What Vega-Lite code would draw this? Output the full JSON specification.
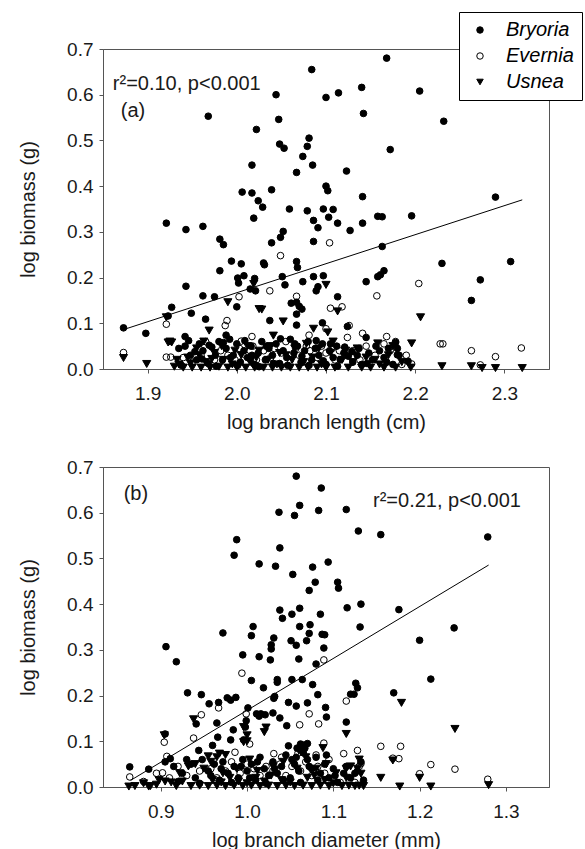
{
"$schema": "https://vega.github.io/schema/vega-lite/v6.json",
"background": "white",
"padding": {"left": 18, "top": 11, "right": 0, "bottom": 0},
"bounds": "flush",
"spacing": 98,
"resolve": {"legend": {"shape": "independent", "fill": "independent", "stroke": "independent"}},
"config": {
 "font": "Liberation Sans",
 "view": {"stroke": "#555", "strokeWidth": 1},
 "axis": {"grid": false, "domainColor": "#555", "tickColor": "#555", "tickSize": 4, "labelFont": "Liberation Sans", "labelFontSize": 19, "labelColor": "#1a1a1a", "titleFont": "Liberation Sans", "titleFontSize": 20, "titleFontWeight": "normal", "titleColor": "#1a1a1a"},
 "axisY": {"labelPadding": 6, "titlePadding": 28},
 "axisX": {"labelPadding": 11, "titlePadding": 9},
 "legend": {"strokeColor": "black", "fillColor": "white", "padding": 8, "rowPadding": 6, "labelFont": "Liberation Sans", "labelFontSize": 20, "labelFontStyle": "italic", "labelColor": "black", "labelOffset": 16, "symbolOffset": 3, "symbolSize": 42, "symbolStrokeColor": "black", "symbolStrokeWidth": 1}
},
"datasets": {
 "lengthPoints": [
  {"x":2.168,"y":0.680,"species":"Bryoria"},{"x":2.084,"y":0.655,"species":"Bryoria"},{"x":2.140,"y":0.616,"species":"Bryoria"},{"x":2.205,"y":0.608,"species":"Bryoria"},{"x":2.114,"y":0.604,"species":"Bryoria"},{"x":2.100,"y":0.594,"species":"Bryoria"},{"x":2.044,"y":0.600,"species":"Bryoria"},{"x":1.968,"y":0.553,"species":"Bryoria"},{"x":2.047,"y":0.546,"species":"Bryoria"},{"x":2.142,"y":0.559,"species":"Bryoria"},{"x":2.232,"y":0.542,"species":"Bryoria"},{"x":2.022,"y":0.524,"species":"Bryoria"},{"x":2.081,"y":0.505,"species":"Bryoria"},{"x":2.079,"y":0.487,"species":"Bryoria"},{"x":2.048,"y":0.492,"species":"Bryoria"},{"x":2.053,"y":0.483,"species":"Bryoria"},{"x":2.172,"y":0.480,"species":"Bryoria"},{"x":2.074,"y":0.465,"species":"Bryoria"},{"x":2.085,"y":0.446,"species":"Bryoria"},{"x":2.017,"y":0.446,"species":"Bryoria"},{"x":2.123,"y":0.433,"species":"Bryoria"},{"x":2.067,"y":0.430,"species":"Bryoria"},{"x":2.039,"y":0.392,"species":"Bryoria"},{"x":2.006,"y":0.387,"species":"Bryoria"},{"x":2.017,"y":0.385,"species":"Bryoria"},{"x":2.100,"y":0.400,"species":"Bryoria"},{"x":2.102,"y":0.390,"species":"Bryoria"},{"x":2.141,"y":0.377,"species":"Bryoria"},{"x":2.290,"y":0.376,"species":"Bryoria"},{"x":2.024,"y":0.368,"species":"Bryoria"},{"x":2.029,"y":0.354,"species":"Bryoria"},{"x":2.059,"y":0.350,"species":"Bryoria"},{"x":2.079,"y":0.346,"species":"Bryoria"},{"x":2.097,"y":0.350,"species":"Bryoria"},{"x":2.108,"y":0.349,"species":"Bryoria"},{"x":2.196,"y":0.335,"species":"Bryoria"},{"x":2.158,"y":0.334,"species":"Bryoria"},{"x":2.163,"y":0.333,"species":"Bryoria"},{"x":2.019,"y":0.330,"species":"Bryoria"},{"x":2.103,"y":0.332,"species":"Bryoria"},{"x":2.086,"y":0.325,"species":"Bryoria"},{"x":1.921,"y":0.319,"species":"Bryoria"},{"x":2.113,"y":0.319,"species":"Bryoria"},{"x":2.141,"y":0.319,"species":"Bryoria"},{"x":1.962,"y":0.312,"species":"Bryoria"},{"x":2.091,"y":0.309,"species":"Bryoria"},{"x":1.943,"y":0.305,"species":"Bryoria"},{"x":2.127,"y":0.303,"species":"Bryoria"},{"x":2.052,"y":0.301,"species":"Bryoria"},{"x":1.981,"y":0.284,"species":"Bryoria"},{"x":1.985,"y":0.272,"species":"Bryoria"},{"x":2.039,"y":0.276,"species":"Bryoria"},{"x":2.049,"y":0.288,"species":"Bryoria"},{"x":2.086,"y":0.279,"species":"Bryoria"},{"x":2.163,"y":0.268,"species":"Bryoria"},{"x":2.030,"y":0.232,"species":"Bryoria"},{"x":2.031,"y":0.228,"species":"Bryoria"},{"x":2.067,"y":0.235,"species":"Bryoria"},{"x":2.068,"y":0.222,"species":"Bryoria"},{"x":1.994,"y":0.236,"species":"Bryoria"},{"x":2.005,"y":0.230,"species":"Bryoria"},{"x":2.230,"y":0.231,"species":"Bryoria"},{"x":2.307,"y":0.235,"species":"Bryoria"},{"x":1.981,"y":0.215,"species":"Bryoria"},{"x":2.165,"y":0.215,"species":"Bryoria"},{"x":2.161,"y":0.206,"species":"Bryoria"},{"x":2.158,"y":0.202,"species":"Bryoria"},{"x":2.008,"y":0.204,"species":"Bryoria"},{"x":2.001,"y":0.199,"species":"Bryoria"},{"x":2.020,"y":0.198,"species":"Bryoria"},{"x":2.051,"y":0.202,"species":"Bryoria"},{"x":2.086,"y":0.202,"species":"Bryoria"},{"x":2.097,"y":0.204,"species":"Bryoria"},{"x":2.273,"y":0.195,"species":"Bryoria"},{"x":2.145,"y":0.191,"species":"Bryoria"},{"x":2.074,"y":0.191,"species":"Bryoria"},{"x":2.002,"y":0.188,"species":"Bryoria"},{"x":2.054,"y":0.184,"species":"Bryoria"},{"x":1.943,"y":0.181,"species":"Bryoria"},{"x":2.091,"y":0.180,"species":"Bryoria"},{"x":2.089,"y":0.171,"species":"Bryoria"},{"x":2.015,"y":0.175,"species":"Bryoria"},{"x":2.021,"y":0.171,"species":"Bryoria"},{"x":1.962,"y":0.160,"species":"Bryoria"},{"x":1.975,"y":0.158,"species":"Bryoria"},{"x":2.113,"y":0.158,"species":"Bryoria"},{"x":2.263,"y":0.150,"species":"Bryoria"},{"x":2.000,"y":0.136,"species":"Bryoria"},{"x":2.061,"y":0.144,"species":"Bryoria"},{"x":2.067,"y":0.146,"species":"Bryoria"},{"x":2.070,"y":0.137,"species":"Bryoria"},{"x":1.927,"y":0.135,"species":"Bryoria"},{"x":2.073,"y":0.131,"species":"Bryoria"},{"x":2.067,"y":0.120,"species":"Bryoria"},{"x":1.949,"y":0.122,"species":"Bryoria"},{"x":1.923,"y":0.116,"species":"Bryoria"},{"x":1.965,"y":0.109,"species":"Bryoria"},{"x":2.037,"y":0.106,"species":"Bryoria"},{"x":2.096,"y":0.101,"species":"Bryoria"},{"x":2.124,"y":0.093,"species":"Bryoria"},{"x":2.067,"y":0.096,"species":"Bryoria"},{"x":1.873,"y":0.090,"species":"Bryoria"},{"x":1.898,"y":0.078,"species":"Bryoria"},{"x":1.942,"y":0.071,"species":"Bryoria"},{"x":1.988,"y":0.074,"species":"Bryoria"},{"x":2.145,"y":0.069,"species":"Bryoria"},{"x":2.178,"y":0.058,"species":"Bryoria"},{"x":2.180,"y":0.031,"species":"Bryoria"},{"x":2.192,"y":0.017,"species":"Bryoria"},
  {"x":1.935,"y":0.045,"species":"Bryoria"},{"x":1.942,"y":0.050,"species":"Bryoria"},{"x":1.948,"y":0.030,"species":"Bryoria"},{"x":1.955,"y":0.020,"species":"Bryoria"},{"x":1.958,"y":0.055,"species":"Bryoria"},{"x":1.962,"y":0.040,"species":"Bryoria"},{"x":1.968,"y":0.012,"species":"Bryoria"},{"x":1.972,"y":0.048,"species":"Bryoria"},{"x":1.976,"y":0.030,"species":"Bryoria"},{"x":1.980,"y":0.060,"species":"Bryoria"},{"x":1.984,"y":0.020,"species":"Bryoria"},{"x":1.988,"y":0.045,"species":"Bryoria"},{"x":1.992,"y":0.065,"species":"Bryoria"},{"x":1.996,"y":0.030,"species":"Bryoria"},{"x":2.000,"y":0.055,"species":"Bryoria"},{"x":2.004,"y":0.015,"species":"Bryoria"},{"x":2.008,"y":0.040,"species":"Bryoria"},{"x":2.012,"y":0.025,"species":"Bryoria"},{"x":2.016,"y":0.050,"species":"Bryoria"},{"x":2.020,"y":0.010,"species":"Bryoria"},{"x":2.024,"y":0.035,"species":"Bryoria"},{"x":2.028,"y":0.060,"species":"Bryoria"},{"x":2.032,"y":0.020,"species":"Bryoria"},{"x":2.036,"y":0.045,"species":"Bryoria"},{"x":2.040,"y":0.030,"species":"Bryoria"},{"x":2.044,"y":0.055,"species":"Bryoria"},{"x":2.048,"y":0.012,"species":"Bryoria"},{"x":2.052,"y":0.040,"species":"Bryoria"},{"x":2.056,"y":0.025,"species":"Bryoria"},{"x":2.060,"y":0.065,"species":"Bryoria"},{"x":2.064,"y":0.035,"species":"Bryoria"},{"x":2.068,"y":0.050,"species":"Bryoria"},{"x":2.072,"y":0.015,"species":"Bryoria"},{"x":2.076,"y":0.040,"species":"Bryoria"},{"x":2.080,"y":0.060,"species":"Bryoria"},{"x":2.084,"y":0.020,"species":"Bryoria"},{"x":2.088,"y":0.045,"species":"Bryoria"},{"x":2.092,"y":0.030,"species":"Bryoria"},{"x":2.096,"y":0.055,"species":"Bryoria"},{"x":2.100,"y":0.010,"species":"Bryoria"},{"x":2.104,"y":0.040,"species":"Bryoria"},{"x":2.108,"y":0.025,"species":"Bryoria"},{"x":2.112,"y":0.050,"species":"Bryoria"},{"x":2.116,"y":0.020,"species":"Bryoria"},{"x":2.120,"y":0.035,"species":"Bryoria"},{"x":2.125,"y":0.028,"species":"Bryoria"},{"x":2.130,"y":0.015,"species":"Bryoria"},{"x":2.135,"y":0.030,"species":"Bryoria"},{"x":2.140,"y":0.010,"species":"Bryoria"},{"x":2.148,"y":0.035,"species":"Bryoria"},{"x":2.152,"y":0.020,"species":"Bryoria"},{"x":2.160,"y":0.040,"species":"Bryoria"},{"x":2.165,"y":0.025,"species":"Bryoria"},{"x":2.170,"y":0.045,"species":"Bryoria"},{"x":2.175,"y":0.010,"species":"Bryoria"},{"x":2.182,"y":0.030,"species":"Bryoria"},
  {"x":1.938,"y":0.008,"species":"Bryoria"},{"x":1.946,"y":0.062,"species":"Bryoria"},{"x":1.953,"y":0.038,"species":"Bryoria"},{"x":1.961,"y":0.022,"species":"Bryoria"},{"x":1.969,"y":0.052,"species":"Bryoria"},{"x":1.977,"y":0.006,"species":"Bryoria"},{"x":1.985,"y":0.058,"species":"Bryoria"},{"x":1.993,"y":0.025,"species":"Bryoria"},{"x":2.001,"y":0.008,"species":"Bryoria"},{"x":2.009,"y":0.062,"species":"Bryoria"},{"x":2.017,"y":0.030,"species":"Bryoria"},{"x":2.025,"y":0.005,"species":"Bryoria"},{"x":2.033,"y":0.050,"species":"Bryoria"},{"x":2.041,"y":0.012,"species":"Bryoria"},{"x":2.049,"y":0.066,"species":"Bryoria"},{"x":2.057,"y":0.008,"species":"Bryoria"},{"x":2.065,"y":0.055,"species":"Bryoria"},{"x":2.073,"y":0.028,"species":"Bryoria"},{"x":2.081,"y":0.008,"species":"Bryoria"},{"x":2.089,"y":0.062,"species":"Bryoria"},{"x":2.097,"y":0.018,"species":"Bryoria"},{"x":2.105,"y":0.055,"species":"Bryoria"},{"x":2.113,"y":0.006,"species":"Bryoria"},{"x":2.121,"y":0.048,"species":"Bryoria"},{"x":2.129,"y":0.038,"species":"Bryoria"},{"x":2.137,"y":0.045,"species":"Bryoria"},{"x":2.146,"y":0.012,"species":"Bryoria"},{"x":2.156,"y":0.050,"species":"Bryoria"},{"x":2.168,"y":0.015,"species":"Bryoria"},{"x":2.180,"y":0.045,"species":"Bryoria"},
  {"x":2.104,"y":0.276,"species":"Evernia"},{"x":2.049,"y":0.248,"species":"Evernia"},{"x":2.037,"y":0.171,"species":"Evernia"},{"x":2.0025,"y":0.158,"species":"Evernia"},{"x":2.067,"y":0.159,"species":"Evernia"},{"x":2.204,"y":0.187,"species":"Evernia"},{"x":2.157,"y":0.160,"species":"Evernia"},{"x":2.105,"y":0.133,"species":"Evernia"},{"x":2.118,"y":0.136,"species":"Evernia"},{"x":1.989,"y":0.106,"species":"Evernia"},{"x":1.987,"y":0.095,"species":"Evernia"},{"x":1.921,"y":0.098,"species":"Evernia"},{"x":2.126,"y":0.095,"species":"Evernia"},{"x":1.873,"y":0.036,"species":"Evernia"},{"x":2.228,"y":0.055,"species":"Evernia"},{"x":2.231,"y":0.055,"species":"Evernia"},{"x":2.263,"y":0.040,"species":"Evernia"},{"x":2.290,"y":0.027,"species":"Evernia"},{"x":2.319,"y":0.046,"species":"Evernia"},{"x":2.273,"y":0.009,"species":"Evernia"},{"x":2.168,"y":0.071,"species":"Evernia"},{"x":2.141,"y":0.078,"species":"Evernia"},{"x":2.081,"y":0.074,"species":"Evernia"},{"x":2.100,"y":0.088,"species":"Evernia"},{"x":2.005,"y":0.061,"species":"Evernia"},{"x":2.017,"y":0.071,"species":"Evernia"},{"x":2.124,"y":0.069,"species":"Evernia"},{"x":1.921,"y":0.026,"species":"Evernia"},{"x":1.926,"y":0.026,"species":"Evernia"},{"x":2.196,"y":0.011,"species":"Evernia"},
  {"x":1.940,"y":0.025,"species":"Evernia"},{"x":1.950,"y":0.015,"species":"Evernia"},{"x":1.960,"y":0.030,"species":"Evernia"},{"x":1.965,"y":0.060,"species":"Evernia"},{"x":1.975,"y":0.020,"species":"Evernia"},{"x":1.982,"y":0.040,"species":"Evernia"},{"x":1.990,"y":0.030,"species":"Evernia"},{"x":1.998,"y":0.020,"species":"Evernia"},{"x":2.003,"y":0.045,"species":"Evernia"},{"x":2.010,"y":0.030,"species":"Evernia"},{"x":2.018,"y":0.050,"species":"Evernia"},{"x":2.022,"y":0.020,"species":"Evernia"},{"x":2.030,"y":0.040,"species":"Evernia"},{"x":2.038,"y":0.025,"species":"Evernia"},{"x":2.042,"y":0.045,"species":"Evernia"},{"x":2.050,"y":0.035,"species":"Evernia"},{"x":2.055,"y":0.060,"species":"Evernia"},{"x":2.060,"y":0.020,"species":"Evernia"},{"x":2.066,"y":0.045,"species":"Evernia"},{"x":2.070,"y":0.030,"species":"Evernia"},{"x":2.078,"y":0.050,"species":"Evernia"},{"x":2.082,"y":0.040,"species":"Evernia"},{"x":2.090,"y":0.025,"species":"Evernia"},{"x":2.095,"y":0.050,"species":"Evernia"},{"x":2.100,"y":0.035,"species":"Evernia"},{"x":2.107,"y":0.045,"species":"Evernia"},{"x":2.110,"y":0.020,"species":"Evernia"},{"x":2.115,"y":0.040,"species":"Evernia"},{"x":2.122,"y":0.030,"species":"Evernia"},{"x":2.130,"y":0.040,"species":"Evernia"},{"x":2.138,"y":0.020,"species":"Evernia"},{"x":2.145,"y":0.050,"species":"Evernia"},{"x":2.155,"y":0.030,"species":"Evernia"},{"x":2.165,"y":0.055,"species":"Evernia"},{"x":2.172,"y":0.040,"species":"Evernia"},{"x":2.178,"y":0.060,"species":"Evernia"},{"x":2.185,"y":0.010,"species":"Evernia"},{"x":2.190,"y":0.030,"species":"Evernia"},
  {"x":2.100,"y":0.184,"species":"Usnea"},{"x":2.019,"y":0.186,"species":"Usnea"},{"x":1.990,"y":0.146,"species":"Usnea"},{"x":2.025,"y":0.131,"species":"Usnea"},{"x":2.028,"y":0.130,"species":"Usnea"},{"x":2.113,"y":0.126,"species":"Usnea"},{"x":2.206,"y":0.113,"species":"Usnea"},{"x":1.921,"y":0.113,"species":"Usnea"},{"x":2.052,"y":0.104,"species":"Usnea"},{"x":2.086,"y":0.088,"species":"Usnea"},{"x":1.969,"y":0.084,"species":"Usnea"},{"x":2.102,"y":0.080,"species":"Usnea"},{"x":2.041,"y":0.073,"species":"Usnea"},{"x":1.923,"y":0.058,"species":"Usnea"},{"x":1.927,"y":0.058,"species":"Usnea"},{"x":2.158,"y":0.056,"species":"Usnea"},{"x":2.196,"y":0.056,"species":"Usnea"},{"x":1.873,"y":0.024,"species":"Usnea"},{"x":1.899,"y":0.011,"species":"Usnea"},{"x":2.230,"y":0.006,"species":"Usnea"},{"x":2.263,"y":0.006,"species":"Usnea"},{"x":2.275,"y":0.002,"species":"Usnea"},{"x":2.290,"y":0.002,"species":"Usnea"},{"x":2.320,"y":0.002,"species":"Usnea"},
  {"x":1.930,"y":0.005,"species":"Usnea"},{"x":1.935,"y":0.010,"species":"Usnea"},{"x":1.940,"y":0.003,"species":"Usnea"},{"x":1.945,"y":0.025,"species":"Usnea"},{"x":1.950,"y":0.003,"species":"Usnea"},{"x":1.955,"y":0.045,"species":"Usnea"},{"x":1.960,"y":0.003,"species":"Usnea"},{"x":1.965,"y":0.015,"species":"Usnea"},{"x":1.970,"y":0.003,"species":"Usnea"},{"x":1.975,"y":0.035,"species":"Usnea"},{"x":1.980,"y":0.005,"species":"Usnea"},{"x":1.985,"y":0.020,"species":"Usnea"},{"x":1.990,"y":0.003,"species":"Usnea"},{"x":1.995,"y":0.010,"species":"Usnea"},{"x":2.000,"y":0.003,"species":"Usnea"},{"x":2.005,"y":0.030,"species":"Usnea"},{"x":2.010,"y":0.003,"species":"Usnea"},{"x":2.015,"y":0.015,"species":"Usnea"},{"x":2.020,"y":0.003,"species":"Usnea"},{"x":2.025,"y":0.040,"species":"Usnea"},{"x":2.030,"y":0.003,"species":"Usnea"},{"x":2.035,"y":0.020,"species":"Usnea"},{"x":2.040,"y":0.003,"species":"Usnea"},{"x":2.045,"y":0.010,"species":"Usnea"},{"x":2.050,"y":0.003,"species":"Usnea"},{"x":2.055,"y":0.030,"species":"Usnea"},{"x":2.060,"y":0.003,"species":"Usnea"},{"x":2.065,"y":0.045,"species":"Usnea"},{"x":2.070,"y":0.003,"species":"Usnea"},{"x":2.075,"y":0.015,"species":"Usnea"},{"x":2.080,"y":0.003,"species":"Usnea"},{"x":2.085,"y":0.025,"species":"Usnea"},{"x":2.090,"y":0.003,"species":"Usnea"},{"x":2.095,"y":0.010,"species":"Usnea"},{"x":2.100,"y":0.003,"species":"Usnea"},{"x":2.105,"y":0.035,"species":"Usnea"},{"x":2.110,"y":0.003,"species":"Usnea"},{"x":2.118,"y":0.020,"species":"Usnea"},{"x":2.125,"y":0.003,"species":"Usnea"},{"x":2.130,"y":0.015,"species":"Usnea"},{"x":2.140,"y":0.003,"species":"Usnea"},{"x":2.145,"y":0.025,"species":"Usnea"},{"x":2.150,"y":0.003,"species":"Usnea"},{"x":2.160,"y":0.010,"species":"Usnea"},{"x":2.165,"y":0.003,"species":"Usnea"},{"x":2.170,"y":0.030,"species":"Usnea"},{"x":2.178,"y":0.003,"species":"Usnea"},{"x":2.185,"y":0.015,"species":"Usnea"},{"x":2.195,"y":0.003,"species":"Usnea"},{"x":1.963,"y":0.060,"species":"Usnea"},{"x":1.925,"y":0.060,"species":"Usnea"},
  {"x":1.933,"y":0.020,"species":"Usnea"},{"x":1.948,"y":0.012,"species":"Usnea"},{"x":1.958,"y":0.030,"species":"Usnea"},{"x":1.972,"y":0.022,"species":"Usnea"},{"x":1.983,"y":0.050,"species":"Usnea"},{"x":1.998,"y":0.040,"species":"Usnea"},{"x":2.012,"y":0.050,"species":"Usnea"},{"x":2.022,"y":0.025,"species":"Usnea"},{"x":2.038,"y":0.050,"species":"Usnea"},{"x":2.048,"y":0.035,"species":"Usnea"},{"x":2.062,"y":0.020,"species":"Usnea"},{"x":2.078,"y":0.055,"species":"Usnea"},{"x":2.092,"y":0.045,"species":"Usnea"},{"x":2.108,"y":0.060,"species":"Usnea"},{"x":2.122,"y":0.040,"species":"Usnea"},{"x":2.135,"y":0.045,"species":"Usnea"},{"x":2.155,"y":0.020,"species":"Usnea"},{"x":2.175,"y":0.050,"species":"Usnea"}
 ],
 "diameterPoints": [
  {"x":1.057,"y":0.680,"species":"Bryoria"},{"x":1.086,"y":0.654,"species":"Bryoria"},{"x":1.061,"y":0.616,"species":"Bryoria"},{"x":1.055,"y":0.594,"species":"Bryoria"},{"x":1.037,"y":0.601,"species":"Bryoria"},{"x":1.083,"y":0.605,"species":"Bryoria"},{"x":1.115,"y":0.607,"species":"Bryoria"},{"x":1.129,"y":0.560,"species":"Bryoria"},{"x":1.155,"y":0.552,"species":"Bryoria"},{"x":1.279,"y":0.547,"species":"Bryoria"},{"x":0.988,"y":0.541,"species":"Bryoria"},{"x":0.985,"y":0.507,"species":"Bryoria"},{"x":1.038,"y":0.523,"species":"Bryoria"},{"x":1.014,"y":0.488,"species":"Bryoria"},{"x":1.033,"y":0.483,"species":"Bryoria"},{"x":1.094,"y":0.492,"species":"Bryoria"},{"x":1.076,"y":0.481,"species":"Bryoria"},{"x":1.053,"y":0.465,"species":"Bryoria"},{"x":1.079,"y":0.448,"species":"Bryoria"},{"x":1.105,"y":0.448,"species":"Bryoria"},{"x":1.106,"y":0.435,"species":"Bryoria"},{"x":1.072,"y":0.430,"species":"Bryoria"},{"x":1.132,"y":0.400,"species":"Bryoria"},{"x":1.116,"y":0.392,"species":"Bryoria"},{"x":1.176,"y":0.388,"species":"Bryoria"},{"x":1.038,"y":0.387,"species":"Bryoria"},{"x":1.061,"y":0.391,"species":"Bryoria"},{"x":1.085,"y":0.378,"species":"Bryoria"},{"x":1.052,"y":0.378,"species":"Bryoria"},{"x":1.041,"y":0.369,"species":"Bryoria"},{"x":1.007,"y":0.351,"species":"Bryoria"},{"x":1.061,"y":0.351,"species":"Bryoria"},{"x":1.073,"y":0.355,"species":"Bryoria"},{"x":1.131,"y":0.350,"species":"Bryoria"},{"x":1.240,"y":0.348,"species":"Bryoria"},{"x":0.972,"y":0.337,"species":"Bryoria"},{"x":1.005,"y":0.331,"species":"Bryoria"},{"x":1.031,"y":0.326,"species":"Bryoria"},{"x":1.087,"y":0.334,"species":"Bryoria"},{"x":1.090,"y":0.333,"species":"Bryoria"},{"x":1.072,"y":0.336,"species":"Bryoria"},{"x":1.028,"y":0.311,"species":"Bryoria"},{"x":1.051,"y":0.320,"species":"Bryoria"},{"x":1.057,"y":0.310,"species":"Bryoria"},{"x":1.069,"y":0.320,"species":"Bryoria"},{"x":1.200,"y":0.321,"species":"Bryoria"},{"x":0.906,"y":0.307,"species":"Bryoria"},{"x":1.028,"y":0.302,"species":"Bryoria"},{"x":1.089,"y":0.304,"species":"Bryoria"},{"x":0.995,"y":0.289,"species":"Bryoria"},{"x":1.014,"y":0.285,"species":"Bryoria"},{"x":1.027,"y":0.278,"species":"Bryoria"},{"x":1.060,"y":0.280,"species":"Bryoria"},{"x":1.080,"y":0.269,"species":"Bryoria"},{"x":0.918,"y":0.274,"species":"Bryoria"},{"x":1.005,"y":0.233,"species":"Bryoria"},{"x":1.035,"y":0.235,"species":"Bryoria"},{"x":1.052,"y":0.235,"species":"Bryoria"},{"x":1.064,"y":0.235,"species":"Bryoria"},{"x":1.213,"y":0.236,"species":"Bryoria"},{"x":1.035,"y":0.229,"species":"Bryoria"},{"x":1.076,"y":0.224,"species":"Bryoria"},{"x":1.126,"y":0.227,"species":"Bryoria"},{"x":1.019,"y":0.217,"species":"Bryoria"},{"x":1.128,"y":0.217,"species":"Bryoria"},{"x":0.931,"y":0.206,"species":"Bryoria"},{"x":0.947,"y":0.202,"species":"Bryoria"},{"x":1.170,"y":0.206,"species":"Bryoria"},{"x":1.120,"y":0.203,"species":"Bryoria"},{"x":1.124,"y":0.203,"species":"Bryoria"},{"x":1.082,"y":0.202,"species":"Bryoria"},{"x":0.977,"y":0.195,"species":"Bryoria"},{"x":0.987,"y":0.196,"species":"Bryoria"},{"x":0.981,"y":0.190,"species":"Bryoria"},{"x":1.031,"y":0.194,"species":"Bryoria"},{"x":1.032,"y":0.198,"species":"Bryoria"},{"x":0.967,"y":0.185,"species":"Bryoria"},{"x":0.956,"y":0.182,"species":"Bryoria"},{"x":1.048,"y":0.185,"species":"Bryoria"},{"x":1.070,"y":0.184,"species":"Bryoria"},{"x":1.091,"y":0.174,"species":"Bryoria"},{"x":1.001,"y":0.173,"species":"Bryoria"},{"x":1.057,"y":0.177,"species":"Bryoria"},{"x":1.115,"y":0.142,"species":"Bryoria"},{"x":0.965,"y":0.140,"species":"Bryoria"},{"x":1.011,"y":0.160,"species":"Bryoria"},{"x":1.014,"y":0.155,"species":"Bryoria"},{"x":1.016,"y":0.160,"species":"Bryoria"},{"x":1.021,"y":0.158,"species":"Bryoria"},{"x":1.030,"y":0.162,"species":"Bryoria"},{"x":1.038,"y":0.151,"species":"Bryoria"},{"x":1.046,"y":0.134,"species":"Bryoria"},{"x":0.999,"y":0.145,"species":"Bryoria"},{"x":0.998,"y":0.131,"species":"Bryoria"},{"x":1.092,"y":0.153,"species":"Bryoria"},{"x":0.941,"y":0.138,"species":"Bryoria"},{"x":0.905,"y":0.116,"species":"Bryoria"},{"x":0.984,"y":0.125,"species":"Bryoria"},{"x":0.966,"y":0.109,"species":"Bryoria"},{"x":0.981,"y":0.103,"species":"Bryoria"},{"x":0.996,"y":0.103,"species":"Bryoria"},{"x":0.960,"y":0.091,"species":"Bryoria"},{"x":0.944,"y":0.080,"species":"Bryoria"},{"x":0.864,"y":0.044,"species":"Bryoria"},{"x":0.886,"y":0.039,"species":"Bryoria"},{"x":0.911,"y":0.062,"species":"Bryoria"},{"x":1.062,"y":0.094,"species":"Bryoria"},
  {"x":0.905,"y":0.055,"species":"Bryoria"},{"x":0.915,"y":0.045,"species":"Bryoria"},{"x":0.925,"y":0.030,"species":"Bryoria"},{"x":0.935,"y":0.050,"species":"Bryoria"},{"x":0.940,"y":0.020,"species":"Bryoria"},{"x":0.948,"y":0.060,"species":"Bryoria"},{"x":0.955,"y":0.035,"species":"Bryoria"},{"x":0.962,"y":0.050,"species":"Bryoria"},{"x":0.968,"y":0.015,"species":"Bryoria"},{"x":0.972,"y":0.055,"species":"Bryoria"},{"x":0.978,"y":0.030,"species":"Bryoria"},{"x":0.985,"y":0.045,"species":"Bryoria"},{"x":0.990,"y":0.020,"species":"Bryoria"},{"x":0.995,"y":0.060,"species":"Bryoria"},{"x":1.000,"y":0.035,"species":"Bryoria"},{"x":1.005,"y":0.050,"species":"Bryoria"},{"x":1.010,"y":0.015,"species":"Bryoria"},{"x":1.015,"y":0.065,"species":"Bryoria"},{"x":1.020,"y":0.040,"species":"Bryoria"},{"x":1.025,"y":0.025,"species":"Bryoria"},{"x":1.030,"y":0.055,"species":"Bryoria"},{"x":1.035,"y":0.030,"species":"Bryoria"},{"x":1.040,"y":0.045,"species":"Bryoria"},{"x":1.045,"y":0.070,"species":"Bryoria"},{"x":1.050,"y":0.020,"species":"Bryoria"},{"x":1.055,"y":0.050,"species":"Bryoria"},{"x":1.060,"y":0.035,"species":"Bryoria"},{"x":1.065,"y":0.075,"species":"Bryoria"},{"x":1.070,"y":0.060,"species":"Bryoria"},{"x":1.075,"y":0.040,"species":"Bryoria"},{"x":1.080,"y":0.065,"species":"Bryoria"},{"x":1.085,"y":0.030,"species":"Bryoria"},{"x":1.090,"y":0.050,"species":"Bryoria"},{"x":1.095,"y":0.020,"species":"Bryoria"},{"x":1.100,"y":0.040,"species":"Bryoria"},{"x":1.105,"y":0.010,"species":"Bryoria"},{"x":1.112,"y":0.030,"species":"Bryoria"},{"x":1.120,"y":0.020,"species":"Bryoria"},{"x":1.128,"y":0.035,"species":"Bryoria"},{"x":1.135,"y":0.015,"species":"Bryoria"},{"x":1.048,"y":0.090,"species":"Bryoria"},{"x":1.058,"y":0.085,"species":"Bryoria"},{"x":1.070,"y":0.095,"species":"Bryoria"},
  {"x":0.920,"y":0.012,"species":"Bryoria"},{"x":0.930,"y":0.060,"species":"Bryoria"},{"x":0.945,"y":0.008,"species":"Bryoria"},{"x":0.958,"y":0.025,"species":"Bryoria"},{"x":0.970,"y":0.040,"species":"Bryoria"},{"x":0.982,"y":0.010,"species":"Bryoria"},{"x":0.993,"y":0.045,"species":"Bryoria"},{"x":1.003,"y":0.020,"species":"Bryoria"},{"x":1.012,"y":0.055,"species":"Bryoria"},{"x":1.022,"y":0.008,"species":"Bryoria"},{"x":1.032,"y":0.040,"species":"Bryoria"},{"x":1.042,"y":0.015,"species":"Bryoria"},{"x":1.052,"y":0.060,"species":"Bryoria"},{"x":1.062,"y":0.010,"species":"Bryoria"},{"x":1.072,"y":0.045,"species":"Bryoria"},{"x":1.082,"y":0.015,"species":"Bryoria"},{"x":1.092,"y":0.070,"species":"Bryoria"},{"x":1.102,"y":0.025,"species":"Bryoria"},{"x":1.115,"y":0.045,"species":"Bryoria"},{"x":1.125,"y":0.030,"species":"Bryoria"},{"x":1.132,"y":0.055,"species":"Bryoria"},{"x":1.057,"y":0.065,"species":"Bryoria"},{"x":1.067,"y":0.085,"species":"Bryoria"},
  {"x":0.994,"y":0.249,"species":"Evernia"},{"x":1.089,"y":0.278,"species":"Evernia"},{"x":1.115,"y":0.188,"species":"Evernia"},{"x":0.967,"y":0.173,"species":"Evernia"},{"x":0.947,"y":0.158,"species":"Evernia"},{"x":0.999,"y":0.160,"species":"Evernia"},{"x":1.072,"y":0.160,"species":"Evernia"},{"x":1.083,"y":0.138,"species":"Evernia"},{"x":1.061,"y":0.136,"species":"Evernia"},{"x":0.938,"y":0.107,"species":"Evernia"},{"x":0.904,"y":0.098,"species":"Evernia"},{"x":1.003,"y":0.094,"species":"Evernia"},{"x":1.155,"y":0.089,"species":"Evernia"},{"x":1.178,"y":0.089,"species":"Evernia"},{"x":1.089,"y":0.096,"species":"Evernia"},{"x":1.128,"y":0.080,"species":"Evernia"},{"x":1.169,"y":0.063,"species":"Evernia"},{"x":1.176,"y":0.062,"species":"Evernia"},{"x":1.213,"y":0.049,"species":"Evernia"},{"x":1.241,"y":0.039,"species":"Evernia"},{"x":1.279,"y":0.017,"species":"Evernia"},{"x":1.200,"y":0.029,"species":"Evernia"},{"x":0.864,"y":0.022,"species":"Evernia"},{"x":0.907,"y":0.067,"species":"Evernia"},{"x":0.902,"y":0.031,"species":"Evernia"},{"x":1.031,"y":0.073,"species":"Evernia"},{"x":1.059,"y":0.074,"species":"Evernia"},{"x":0.986,"y":0.076,"species":"Evernia"},{"x":1.112,"y":0.073,"species":"Evernia"},{"x":1.132,"y":0.051,"species":"Evernia"},
  {"x":0.880,"y":0.012,"species":"Evernia"},{"x":0.895,"y":0.030,"species":"Evernia"},{"x":0.910,"y":0.020,"species":"Evernia"},{"x":0.920,"y":0.045,"species":"Evernia"},{"x":0.930,"y":0.025,"species":"Evernia"},{"x":0.945,"y":0.035,"species":"Evernia"},{"x":0.958,"y":0.040,"species":"Evernia"},{"x":0.965,"y":0.020,"species":"Evernia"},{"x":0.975,"y":0.035,"species":"Evernia"},{"x":0.982,"y":0.055,"species":"Evernia"},{"x":0.992,"y":0.030,"species":"Evernia"},{"x":1.000,"y":0.050,"species":"Evernia"},{"x":1.008,"y":0.040,"species":"Evernia"},{"x":1.015,"y":0.025,"species":"Evernia"},{"x":1.022,"y":0.045,"species":"Evernia"},{"x":1.030,"y":0.035,"species":"Evernia"},{"x":1.038,"y":0.050,"species":"Evernia"},{"x":1.045,"y":0.025,"species":"Evernia"},{"x":1.052,"y":0.045,"species":"Evernia"},{"x":1.062,"y":0.035,"species":"Evernia"},{"x":1.068,"y":0.055,"species":"Evernia"},{"x":1.075,"y":0.025,"species":"Evernia"},{"x":1.082,"y":0.045,"species":"Evernia"},{"x":1.090,"y":0.030,"species":"Evernia"},{"x":1.095,"y":0.060,"species":"Evernia"},{"x":1.100,"y":0.020,"species":"Evernia"},{"x":1.108,"y":0.010,"species":"Evernia"},{"x":1.125,"y":0.010,"species":"Evernia"},{"x":1.130,"y":0.045,"species":"Evernia"},{"x":1.065,"y":0.075,"species":"Evernia"},{"x":1.080,"y":0.070,"species":"Evernia"},{"x":1.040,"y":0.065,"species":"Evernia"},
  {"x":1.179,"y":0.184,"species":"Usnea"},{"x":1.241,"y":0.127,"species":"Usnea"},{"x":1.115,"y":0.116,"species":"Usnea"},{"x":0.938,"y":0.148,"species":"Usnea"},{"x":0.996,"y":0.131,"species":"Usnea"},{"x":1.000,"y":0.113,"species":"Usnea"},{"x":0.904,"y":0.113,"species":"Usnea"},{"x":0.996,"y":0.098,"species":"Usnea"},{"x":1.088,"y":0.085,"species":"Usnea"},{"x":1.065,"y":0.091,"species":"Usnea"},{"x":0.968,"y":0.073,"species":"Usnea"},{"x":0.955,"y":0.067,"species":"Usnea"},{"x":1.155,"y":0.020,"species":"Usnea"},{"x":1.200,"y":0.020,"species":"Usnea"},{"x":1.169,"y":0.058,"species":"Usnea"},{"x":1.115,"y":0.040,"species":"Usnea"},{"x":1.132,"y":0.029,"species":"Usnea"},{"x":1.177,"y":0.001,"species":"Usnea"},{"x":1.213,"y":0.001,"species":"Usnea"},{"x":1.280,"y":0.004,"species":"Usnea"},{"x":0.863,"y":0.001,"species":"Usnea"},{"x":0.886,"y":0.001,"species":"Usnea"},
  {"x":0.870,"y":0.002,"species":"Usnea"},{"x":0.880,"y":0.008,"species":"Usnea"},{"x":0.888,"y":0.002,"species":"Usnea"},{"x":0.895,"y":0.005,"species":"Usnea"},{"x":0.905,"y":0.012,"species":"Usnea"},{"x":0.912,"y":0.010,"species":"Usnea"},{"x":0.918,"y":0.002,"species":"Usnea"},{"x":0.925,"y":0.012,"species":"Usnea"},{"x":0.935,"y":0.002,"species":"Usnea"},{"x":0.940,"y":0.050,"species":"Usnea"},{"x":0.945,"y":0.003,"species":"Usnea"},{"x":0.950,"y":0.040,"species":"Usnea"},{"x":0.955,"y":0.002,"species":"Usnea"},{"x":0.960,"y":0.015,"species":"Usnea"},{"x":0.965,"y":0.003,"species":"Usnea"},{"x":0.970,"y":0.010,"species":"Usnea"},{"x":0.975,"y":0.002,"species":"Usnea"},{"x":0.980,"y":0.020,"species":"Usnea"},{"x":0.985,"y":0.003,"species":"Usnea"},{"x":0.990,"y":0.012,"species":"Usnea"},{"x":0.995,"y":0.002,"species":"Usnea"},{"x":1.000,"y":0.008,"species":"Usnea"},{"x":1.005,"y":0.003,"species":"Usnea"},{"x":1.010,"y":0.020,"species":"Usnea"},{"x":1.015,"y":0.002,"species":"Usnea"},{"x":1.020,"y":0.012,"species":"Usnea"},{"x":1.025,"y":0.003,"species":"Usnea"},{"x":1.030,"y":0.045,"species":"Usnea"},{"x":1.035,"y":0.002,"species":"Usnea"},{"x":1.040,"y":0.015,"species":"Usnea"},{"x":1.045,"y":0.003,"species":"Usnea"},{"x":1.050,"y":0.010,"species":"Usnea"},{"x":1.055,"y":0.002,"species":"Usnea"},{"x":1.060,"y":0.080,"species":"Usnea"},{"x":1.065,"y":0.003,"species":"Usnea"},{"x":1.070,"y":0.020,"species":"Usnea"},{"x":1.075,"y":0.002,"species":"Usnea"},{"x":1.080,"y":0.040,"species":"Usnea"},{"x":1.085,"y":0.003,"species":"Usnea"},{"x":1.090,"y":0.015,"species":"Usnea"},{"x":1.095,"y":0.002,"species":"Usnea"},{"x":1.100,"y":0.008,"species":"Usnea"},{"x":1.110,"y":0.002,"species":"Usnea"},{"x":1.118,"y":0.003,"species":"Usnea"},{"x":1.125,"y":0.002,"species":"Usnea"},{"x":1.130,"y":0.003,"species":"Usnea"},{"x":1.135,"y":0.002,"species":"Usnea"},{"x":0.975,"y":0.070,"species":"Usnea"},{"x":0.965,"y":0.065,"species":"Usnea"},{"x":1.000,"y":0.100,"species":"Usnea"},{"x":1.020,"y":0.120,"species":"Usnea"},{"x":1.022,"y":0.130,"species":"Usnea"},
  {"x":0.898,"y":0.015,"species":"Usnea"},{"x":0.922,"y":0.030,"species":"Usnea"},{"x":0.932,"y":0.045,"species":"Usnea"},{"x":0.958,"y":0.055,"species":"Usnea"},{"x":0.972,"y":0.030,"species":"Usnea"},{"x":0.988,"y":0.040,"species":"Usnea"},{"x":1.003,"y":0.060,"species":"Usnea"},{"x":1.012,"y":0.035,"species":"Usnea"},{"x":1.028,"y":0.025,"species":"Usnea"},{"x":1.042,"y":0.055,"species":"Usnea"},{"x":1.058,"y":0.040,"species":"Usnea"},{"x":1.068,"y":0.065,"species":"Usnea"},{"x":1.078,"y":0.025,"species":"Usnea"},{"x":1.092,"y":0.050,"species":"Usnea"},{"x":1.103,"y":0.030,"species":"Usnea"},{"x":1.115,"y":0.020,"species":"Usnea"},{"x":1.128,"y":0.040,"species":"Usnea"},{"x":1.120,"y":0.045,"species":"Usnea"},{"x":1.130,"y":0.060,"species":"Usnea"}
 ],
 "fitLines": [
  {"panel":"a","x":1.875,"y":0.0875},{"panel":"a","x":2.32,"y":0.37},
  {"panel":"b","x":0.865,"y":0.0145},{"panel":"b","x":1.28,"y":0.4855}
 ],
 "notes": [
  {"panel":"a","x":1.861,"y":0.624,"label":"r²=0.10, p<0.001"},
  {"panel":"a","x":1.870,"y":0.565,"label":"(a)"},
  {"panel":"b","x":0.857,"y":0.640,"label":"(b)"},
  {"panel":"b","x":1.146,"y":0.625,"label":"r²=0.21, p<0.001"}
 ]
},
"vconcat": [
 {
  "width": 446, "height": 320,
  "layer": [
   {
    "data": {"name": "lengthPoints"},
    "mark": {"type": "point", "filled": true, "strokeWidth": 1, "opacity": 1},
    "encoding": {
     "x": {"field": "x", "type": "quantitative", "scale": {"domain": [1.85, 2.35], "nice": false, "zero": false}, "axis": {"values": [1.9, 2.0, 2.1, 2.2, 2.3], "format": ".1f", "title": "log branch length (cm)"}},
     "y": {"field": "y", "type": "quantitative", "scale": {"domain": [0, 0.7], "nice": false, "zero": false}, "axis": {"values": [0, 0.1, 0.2, 0.3, 0.4, 0.5, 0.6, 0.7], "format": ".1f", "title": "log biomass (g)"}},
     "shape": {"field": "species", "type": "nominal", "scale": {"domain": ["Bryoria", "Evernia", "Usnea"], "range": ["circle", "circle", "triangle-down"]}, "legend": {"title": null, "orient": "none", "legendX": 356, "legendY": -37}},
     "fill": {"field": "species", "type": "nominal", "scale": {"domain": ["Bryoria", "Evernia", "Usnea"], "range": ["black", "transparent", "black"]}, "legend": {"title": null, "orient": "none", "legendX": 356, "legendY": -37}},
     "stroke": {"field": "species", "type": "nominal", "scale": {"domain": ["Bryoria", "Evernia", "Usnea"], "range": ["black", "black", "black"]}, "legend": {"title": null, "orient": "none", "legendX": 356, "legendY": -37}},
     "size": {"condition": {"test": "datum.species === 'Usnea'", "value": 66}, "value": 44}
    }
   },
   {
    "data": {"name": "fitLines"},
    "transform": [{"filter": "datum.panel === 'a'"}],
    "mark": {"type": "line", "color": "black", "strokeWidth": 1},
    "encoding": {"x": {"field": "x", "type": "quantitative"}, "y": {"field": "y", "type": "quantitative"}}
   },
   {
    "data": {"name": "notes"},
    "transform": [{"filter": "datum.panel === 'a'"}],
    "mark": {"type": "text", "align": "left", "baseline": "middle", "fontSize": 20, "color": "#1a1a1a", "font": "Liberation Sans"},
    "encoding": {"x": {"field": "x", "type": "quantitative"}, "y": {"field": "y", "type": "quantitative"}, "text": {"field": "label"}}
   }
  ]
 },
 {
  "width": 446, "height": 320,
  "layer": [
   {
    "data": {"name": "diameterPoints"},
    "mark": {"type": "point", "filled": true, "strokeWidth": 1, "opacity": 1},
    "encoding": {
     "x": {"field": "x", "type": "quantitative", "scale": {"domain": [0.833, 1.35], "nice": false, "zero": false}, "axis": {"values": [0.9, 1.0, 1.1, 1.2, 1.3], "format": ".1f", "title": "log branch diameter (mm)"}},
     "y": {"field": "y", "type": "quantitative", "scale": {"domain": [0, 0.7], "nice": false, "zero": false}, "axis": {"values": [0, 0.1, 0.2, 0.3, 0.4, 0.5, 0.6, 0.7], "format": ".1f", "title": "log biomass (g)"}},
     "shape": {"field": "species", "type": "nominal", "scale": {"domain": ["Bryoria", "Evernia", "Usnea"], "range": ["circle", "circle", "triangle-down"]}, "legend": null},
     "fill": {"field": "species", "type": "nominal", "scale": {"domain": ["Bryoria", "Evernia", "Usnea"], "range": ["black", "transparent", "black"]}, "legend": null},
     "stroke": {"field": "species", "type": "nominal", "scale": {"domain": ["Bryoria", "Evernia", "Usnea"], "range": ["black", "black", "black"]}, "legend": null},
     "size": {"condition": {"test": "datum.species === 'Usnea'", "value": 66}, "value": 44}
    }
   },
   {
    "data": {"name": "fitLines"},
    "transform": [{"filter": "datum.panel === 'b'"}],
    "mark": {"type": "line", "color": "black", "strokeWidth": 1},
    "encoding": {"x": {"field": "x", "type": "quantitative"}, "y": {"field": "y", "type": "quantitative"}}
   },
   {
    "data": {"name": "notes"},
    "transform": [{"filter": "datum.panel === 'b'"}],
    "mark": {"type": "text", "align": "left", "baseline": "middle", "fontSize": 20, "color": "#1a1a1a", "font": "Liberation Sans"},
    "encoding": {"x": {"field": "x", "type": "quantitative"}, "y": {"field": "y", "type": "quantitative"}, "text": {"field": "label"}}
   }
  ]
 }
]
}
